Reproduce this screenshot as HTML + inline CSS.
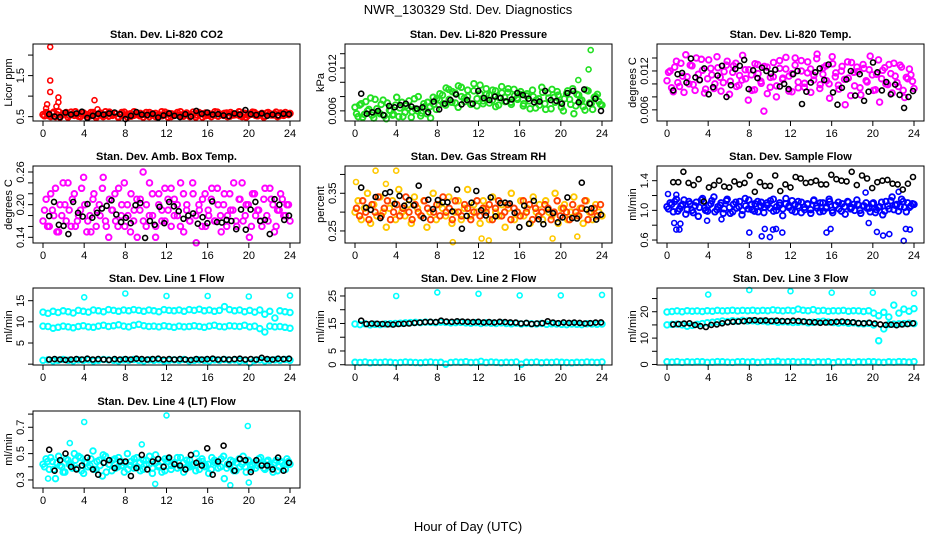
<!DOCTYPE html>
<html><head><meta charset="utf-8"><style>
html,body{margin:0;padding:0;background:#fff;}
svg{display:block;font-family:"Liberation Sans",Arial,sans-serif;}
</style></head><body>
<svg id="chart" width="936" height="540" viewBox="0 0 936 540" xmlns="http://www.w3.org/2000/svg">
<rect x="0" y="0" width="936" height="540" fill="#fff"/>
<text x="468" y="14" text-anchor="middle" font-size="13">NWR_130329  Std. Dev. Diagnostics</text>
<text x="468" y="531" text-anchor="middle" font-size="13">Hour of Day (UTC)</text>
</svg>
<script>
const xTicks=[0,4,8,12,16,20,24];
const xTickLabels=["0","4","8","12","16","20","24"];

const co2Red=[0.55,0.60,0.52,0.58,0.50,0.62,0.54,0.57,0.49,0.61,0.53,0.56,0.50,0.59,0.55,0.52,0.60,0.48,0.57,0.54,0.62,0.51,0.56,0.58,0.50,0.55,0.61,0.49,0.57,0.53,0.59,0.52,0.56,0.60,0.50,0.54,0.58,0.51,0.62,0.55,0.49,0.57,0.53,0.60,0.52,0.56,0.58,0.50,0.61,0.54,0.57,0.49,0.59,0.53,0.56,0.62,0.51,0.55,0.58,0.50,0.60,0.54,0.57,0.52,0.59,0.49,0.56,0.61,0.53,0.55,0.58,0.51,0.60,0.54,0.57,0.50,0.59,0.53,0.56,0.58];
const co2RedB=[0.52,0.58,0.50,0.61,0.55,0.49,0.57,0.60,0.53,0.56,0.62,0.51,0.58,0.54,0.49,0.60,0.56,0.52,0.59,0.50,0.55,0.61,0.53,0.57,0.48,0.60,0.54,0.56,0.51,0.62,0.55,0.58,0.49,0.53,0.60,0.57,0.50,0.55,0.52,0.61,0.58,0.50,0.56,0.54,0.62,0.51,0.59,0.53,0.55,0.49,0.60,0.57,0.52,0.58,0.50,0.54,0.61,0.56,0.53,0.59,0.51,0.57,0.55,0.62,0.50,0.58,0.53,0.56,0.60,0.52,0.55,0.49,0.59,0.57,0.54,0.61,0.52,0.56,0.60,0.55];
const co2Black=[0.56,0.50,0.49,0.60,0.55,0.58,0.62,0.47,0.52,0.57,0.55,0.58,0.60,0.56,0.44,0.52,0.61,0.55,0.54,0.57,0.48,0.53,0.58,0.52,0.49,0.56,0.50,0.64,0.57,0.60,0.55,0.56,0.53,0.51,0.58,0.55,0.66,0.56,0.54,0.58,0.52,0.55,0.53,0.57,0.56];
const co2OutHours=[0.7,0.7,0.7,1.5,1.5,0.4,5.0,1.3,0.3,5.3];
const co2OutValues=[2.2,1.38,1.1,0.97,0.85,0.8,0.9,0.75,0.7,0.68];

const presGreen=[6.5,5.2,7.0,5.5,6.0,7.8,5.0,6.3,5.6,7.5,4.9,6.1,5.4,6.8,5.2,7.2,5.8,6.4,5.1,7.7,6.0,5.3,7.0,5.6,6.6,7.9,6.2,7.5,8.2,6.8,9.0,7.2,8.5,6.5,9.3,7.8,8.0,7.0,8.8,6.7,9.6,7.4,8.3,7.1,8.9,6.6,7.9,8.5,7.3,9.1,6.9,8.1,7.6,8.7,7.0,8.4,6.3,8.0,7.5,6.8,8.6,6.2,7.8,9.0,7.2,8.2,6.5,7.7,8.8,6.9,5.6,8.3,7.4,6.6,8.9,7.1,6.2,8.0,7.3,6.8];
const presGreenB=[5.6,6.8,5.1,7.3,6.2,5.4,7.6,5.8,6.9,5.3,7.1,6.0,5.5,7.9,6.4,5.2,6.7,7.4,5.9,6.3,8.0,5.7,6.6,7.2,5.0,6.9,7.7,8.4,7.0,9.2,7.6,8.7,7.1,9.5,8.0,7.3,8.9,6.9,9.8,7.7,8.4,7.0,9.1,8.2,7.5,8.8,6.8,9.4,7.9,8.6,7.2,9.0,7.8,8.3,6.7,8.1,7.4,8.9,6.4,7.7,9.3,7.0,8.5,6.3,7.9,8.7,7.2,6.0,8.4,7.6,9.1,6.7,8.2,7.5,6.1,8.8,7.0,7.9,8.3,6.9];
const presBlack=[8.4,5.6,5.8,6.0,5.4,6.7,6.5,6.8,7.0,6.6,6.3,6.5,5.8,7.3,6.2,7.0,7.5,8.3,6.9,7.5,7.0,8.8,7.8,7.5,8.0,7.8,7.3,7.6,8.5,8.2,7.7,7.2,7.3,8.8,7.5,7.4,7.0,8.5,8.8,7.2,9.0,7.0,7.7,6.0];
const presOutHours=[22.9,22.7,21.7];
const presOutValues=[14.5,11.8,10.3];

const tempMagenta=[10.5,12.0,8.8,13.5,9.6,11.2,14.5,10.0,12.8,9.0,11.5,13.8,8.6,10.8,12.4,9.3,14.2,11.0,10.2,12.9,8.4,11.8,13.2,9.8,10.6,12.2,7.5,11.4,9.1,13.0,10.4,5.8,12.6,9.5,11.1,8.0,13.6,10.7,12.3,8.9,11.6,14.0,9.4,12.0,10.1,13.4,8.7,11.3,14.6,9.9,12.5,10.5,7.8,13.1,11.7,9.2,12.7,6.8,10.9,13.3,9.7,11.9,8.3,12.4,10.3,14.3,9.0,11.5,7.2,12.1,10.0,13.0,8.6,11.2,9.6,12.6,7.9,10.8,11.4,9.3];
const tempMagentaB=[11.8,9.4,12.6,10.2,13.2,8.7,11.1,12.9,9.9,14.0,10.6,12.1,9.2,13.7,11.4,10.0,12.5,8.9,11.9,13.5,10.4,12.8,9.6,11.3,14.4,10.8,12.2,9.0,13.1,11.6,10.1,12.7,8.5,11.0,13.3,9.7,12.4,10.9,14.1,11.2,8.8,12.9,10.3,13.6,9.5,11.7,12.3,10.6,13.9,9.3,11.5,12.8,10.0,14.2,11.1,9.8,12.0,10.7,13.4,8.2,11.8,12.6,9.4,13.0,10.5,12.2,11.4,9.1,13.7,10.8,12.5,9.9,11.6,13.2,10.2,12.9,9.0,11.0,12.3,10.4];
const tempBlack=[9.0,11.5,11.7,10.2,13.9,11.0,10.6,12.4,8.4,9.5,11.3,12.8,8.0,9.8,12.3,12.8,13.7,9.2,12.1,10.9,12.5,12.0,11.6,12.2,9.6,10.0,9.2,11.5,12.0,6.9,8.8,10.2,11.8,12.4,10.6,13.0,8.7,6.8,9.4,10.7,12.0,8.2,11.5,7.4,8.8,13.3,11.8,9.0,10.3,8.4,9.9,8.3,6.3,8.0,8.9];

const ambMagenta=[0.17,0.21,0.16,0.19,0.23,0.15,0.18,0.20,0.24,0.16,0.22,0.17,0.19,0.25,0.15,0.18,0.21,0.16,0.20,0.23,0.17,0.14,0.19,0.22,0.16,0.18,0.24,0.20,0.15,0.17,0.21,0.19,0.26,0.16,0.18,0.22,0.14,0.20,0.17,0.23,0.19,0.16,0.21,0.18,0.24,0.15,0.20,0.17,0.22,0.13,0.19,0.21,0.16,0.18,0.23,0.17,0.20,0.15,0.22,0.18,0.19,0.24,0.16,0.21,0.17,0.20,0.14,0.22,0.18,0.19,0.16,0.23,0.17,0.21,0.15,0.19,0.22,0.18,0.20,0.17];
const ambMagentaB=[0.19,0.16,0.22,0.18,0.15,0.20,0.24,0.17,0.19,0.21,0.16,0.18,0.23,0.20,0.17,0.15,0.22,0.19,0.18,0.25,0.16,0.21,0.19,0.17,0.23,0.20,0.16,0.18,0.22,0.19,0.14,0.21,0.17,0.20,0.24,0.18,0.16,0.22,0.19,0.17,0.21,0.23,0.18,0.20,0.16,0.22,0.19,0.17,0.24,0.18,0.20,0.16,0.22,0.19,0.21,0.17,0.23,0.18,0.20,0.16,0.22,0.19,0.17,0.21,0.24,0.18,0.20,0.16,0.22,0.19,0.17,0.21,0.18,0.23,0.20,0.16,0.19,0.21,0.18,0.20];
const ambBlack=[0.179,0.205,0.163,0.161,0.146,0.205,0.185,0.178,0.201,0.176,0.185,0.193,0.198,0.208,0.182,0.168,0.176,0.166,0.199,0.203,0.139,0.170,0.163,0.196,0.166,0.205,0.197,0.188,0.174,0.180,0.184,0.165,0.177,0.166,0.206,0.168,0.167,0.172,0.170,0.155,0.191,0.154,0.191,0.205,0.170,0.172,0.146,0.210,0.200,0.172,0.180];

const rhYellow=[0.30,0.33,0.28,0.31,0.35,0.27,0.32,0.29,0.34,0.30,0.26,0.31,0.33,0.28,0.36,0.30,0.29,0.32,0.27,0.34,0.31,0.29,0.33,0.26,0.30,0.35,0.28,0.32,0.31,0.29,0.34,0.27,0.30,0.33,0.28,0.31,0.36,0.29,0.32,0.30,0.27,0.33,0.31,0.28,0.34,0.30,0.29,0.32,0.26,0.31,0.35,0.28,0.30,0.33,0.29,0.31,0.27,0.34,0.30,0.32,0.28,0.33,0.30,0.29,0.35,0.27,0.31,0.32,0.28,0.30,0.34,0.29,0.31,0.27,0.33,0.30,0.28,0.32,0.30,0.29];
const rhRed=[0.31,0.29,0.33,0.30,0.28,0.32,0.30,0.34,0.29,0.31,0.33,0.28,0.30,0.32,0.29,0.31,0.34,0.30,0.28,0.32,0.30,0.29,0.33,0.31,0.28,0.30,0.32,0.29,0.34,0.30,0.31,0.28,0.33,0.30,0.29,0.32,0.31,0.28,0.30,0.33,0.29,0.31,0.30,0.32,0.28,0.31,0.33,0.29,0.30,0.32,0.28,0.31,0.30,0.29,0.33,0.30,0.32,0.28,0.31,0.29,0.30,0.32,0.31,0.28,0.30,0.33,0.29,0.31,0.30,0.28,0.32,0.30,0.29,0.31,0.33,0.28,0.30,0.31,0.29,0.32];
const rhOutHours=[0.1,2.0,4.0,3.0,9.5,12.3,13.0,19.2,21.6];
const rhOutValues=[0.38,0.41,0.41,0.375,0.22,0.23,0.225,0.23,0.235];
const rhBlack=[0.365,0.312,0.306,0.340,0.284,0.350,0.353,0.322,0.343,0.317,0.332,0.318,0.370,0.284,0.333,0.308,0.332,0.326,0.326,0.302,0.360,0.256,0.290,0.325,0.356,0.305,0.291,0.339,0.289,0.324,0.325,0.323,0.298,0.260,0.317,0.269,0.330,0.281,0.268,0.307,0.297,0.273,0.286,0.339,0.284,0.283,0.378,0.307,0.310,0.280,0.293];

const flowBlue=[1.05,1.10,0.98,1.15,1.02,1.08,0.95,1.12,1.00,1.06,0.92,1.14,1.03,0.99,1.09,1.18,1.01,1.07,0.96,1.13,1.04,0.98,1.11,1.05,0.94,1.16,1.02,1.08,0.99,1.12,1.06,0.97,1.10,1.03,1.15,1.00,1.07,0.93,1.09,1.04,1.13,0.98,1.06,1.11,1.01,1.08,0.96,1.14,1.03,1.10,0.99,1.05,1.12,0.97,1.07,1.02,1.09,0.95,1.11,1.04,1.00,1.08,0.96,1.06,1.03,0.98,1.10,1.01,1.05,0.94,1.12,1.02,1.18,1.07,0.99,1.15,1.04,1.10,1.06,1.08];
const flowBlueB=[1.02,1.08,1.12,0.99,1.06,1.14,1.01,1.09,0.97,1.11,1.04,1.16,1.00,1.07,1.13,0.98,1.05,1.10,1.02,1.15,0.96,1.08,1.03,1.12,1.00,1.06,1.14,1.01,1.09,0.98,1.11,1.04,1.07,1.13,0.99,1.05,1.10,1.02,1.16,1.06,1.00,1.08,1.12,0.97,1.04,1.09,1.01,1.13,1.06,0.98,1.10,1.03,1.15,1.00,1.07,1.11,0.99,1.05,1.12,1.02,1.08,1.14,1.00,1.06,1.10,1.03,1.09,0.97,1.04,1.11,0.99,1.06,1.13,1.01,1.08,1.05,1.12,0.98,1.04,1.09];
const flowOutHours=[0.9,0.7,1.2,1.3,8.0,9.2,9.5,10.0,10.3,10.6,11.2,15.5,15.9,19.6,20.4,21.0,21.6,23.0,23.2,23.6,3.9,5.3,0.1,0.9,19.3,22.5];
const flowOutValues=[0.74,0.83,0.74,0.82,0.70,0.65,0.75,0.64,0.74,0.75,0.70,0.70,0.75,0.83,0.71,0.66,0.68,0.59,0.75,0.74,0.86,0.88,1.22,1.21,1.24,1.25];
const flowBlack=[1.38,1.38,1.52,1.37,1.34,1.42,1.12,1.31,1.34,1.40,1.32,1.31,1.39,1.35,1.37,1.47,1.25,1.38,1.33,1.33,1.47,1.26,1.35,1.31,1.45,1.43,1.37,1.38,1.40,1.35,1.35,1.48,1.42,1.40,1.39,1.52,1.34,1.47,1.43,1.30,1.38,1.40,1.41,1.36,1.35,1.28,1.36,1.45];

const line1High=[12.3,12.0,12.5,12.2,12.6,12.4,12.1,12.7,12.5,12.3,12.8,12.6,12.4,12.9,12.7,12.5,12.8,12.6,12.9,12.7,12.5,12.8,12.6,12.4,12.9,12.7,12.6,12.8,12.5,12.9,12.7,13.0,12.6,12.8,12.5,12.7,13.6,12.9,12.6,12.8,12.4,12.7,12.3,12.8,11.8,12.5,10.9,12.6,12.4,12.2];
const line1Mid=[9.0,8.9,8.5,8.7,9.0,8.8,8.6,8.9,9.1,8.8,8.7,9.0,9.2,8.9,9.1,9.3,9.0,8.8,9.2,9.4,9.1,8.9,9.0,8.8,9.1,8.9,8.7,9.0,8.8,8.9,9.1,8.9,8.7,9.0,9.2,8.9,8.8,9.1,9.0,8.9,9.2,8.8,9.0,8.4,7.6,9.0,8.8,8.9,8.7,8.5];
const line1Low=[0.9,1.0,0.8,0.9,1.1,0.9,0.8,1.0,0.9,1.0,0.8,0.9,1.1,1.0,0.9,0.8,1.0,0.9,1.1,0.9,0.8,1.0,0.9,1.0,0.8,0.9,1.0,0.9,1.1,0.8,0.9,1.0,0.9,0.8,1.0,0.9,1.1,0.9,1.0,0.8,0.9,0.3,0.9,1.0,0.8,0.9,1.0,0.9,1.1,0.9];
const line1Black=[1.1,1.2,1.1,1.0,1.1,1.2,1.1,1.3,1.1,1.2,1.1,1.0,1.2,1.1,1.2,1.1,1.3,1.2,1.1,1.2,1.3,1.1,1.2,1.1,1.2,1.1,1.0,1.2,1.1,1.2,1.3,1.1,1.2,1.1,1.2,1.3,1.1,1.2,1.1,1.5,1.2,1.1,1.3,1.2,1.3];
const line1OutHours=[4,8,12,16,20,24];
const line1OutValues=[15.8,16.7,16.1,16.1,16.0,16.2];

const line2High=[14.8,14.6,14.9,14.5,14.7,14.6,14.8,14.9,15.0,15.1,15.2,15.3,15.4,15.3,15.5,15.4,15.3,15.5,15.4,15.2,15.3,15.4,15.2,15.1,15.3,15.0,15.2,15.1,15.0,15.2,15.0,14.9,15.1,14.8,15.0,14.9,14.8,15.0,14.7,14.9,14.8,14.7,14.6,14.8,14.7,14.6,14.9,14.8,14.7,14.8];
const line2Low=[0.9,0.8,1.0,0.7,0.9,0.8,1.0,0.9,0.7,0.8,1.0,0.9,0.8,0.7,0.9,1.0,0.8,0.9,0.2,0.8,1.0,0.9,1.1,0.8,0.9,1.2,0.8,1.0,0.9,0.7,0.9,0.8,1.0,0.2,0.9,0.8,1.0,0.7,0.9,0.8,1.0,0.9,0.8,0.7,0.9,0.8,1.0,0.9,0.8,1.0];
const line2Black=[16.0,14.8,15.0,14.9,14.8,14.7,14.6,14.8,14.9,15.0,15.2,15.3,15.5,15.6,15.5,16.0,15.7,15.6,15.8,15.7,15.6,15.5,15.6,15.4,15.5,15.4,15.6,15.5,15.4,15.3,15.0,15.2,14.8,15.0,15.1,15.8,15.3,15.1,15.4,15.2,15.3,15.2,15.0,15.1,15.3,15.4];
const line2OutHours=[4,8,12,16,20,24];
const line2OutValues=[25,26.3,25.8,25.2,25.2,25.4];

const line3High=[19.9,20.1,20.3,20.0,20.4,20.2,20.3,20.1,20.4,20.2,20.5,20.3,20.4,20.6,20.3,20.5,20.4,20.6,20.3,20.5,20.4,20.7,20.5,20.3,20.6,20.4,21.0,20.6,20.4,20.8,20.3,20.5,20.2,20.4,20.3,20.5,20.2,20.4,20.3,20.1,20.4,19.5,18.5,19.8,18.0,22.5,19.5,21.0,20.2,21.2];
const line3Mid=[15.0,15.2,15.3,15.0,14.5,14.8,15.2,15.5,15.8,16.0,16.2,16.5,16.3,16.6,16.4,16.7,16.5,16.6,16.3,16.5,16.2,16.4,16.0,16.2,16.1,15.9,16.0,16.2,15.8,16.0,16.2,16.4,16.1,15.9,15.7,15.9,15.6,15.8,15.5,15.4,15.6,15.0,9.0,13.5,15.2,15.3,15.4,15.5,15.6,15.5];
const line3Low=[1.0,0.9,1.1,0.8,1.0,0.9,1.1,1.0,0.8,0.9,1.1,1.0,0.9,0.8,1.0,1.1,0.9,1.0,0.8,0.9,1.1,1.0,1.2,0.9,1.0,1.1,0.9,1.1,1.0,0.8,1.0,0.9,1.1,0.7,1.0,0.9,1.1,0.8,1.0,0.9,1.1,1.0,0.9,0.8,1.0,0.9,1.1,1.0,0.9,1.1];
const line3Black=[15.2,15.3,15.5,15.6,15.0,14.5,14.2,15.0,15.2,15.6,16.0,16.2,16.3,16.4,16.7,16.8,16.6,16.7,16.5,16.6,16.5,16.4,16.6,16.5,16.3,16.1,16.0,15.8,15.9,16.0,16.2,16.3,16.1,16.0,15.7,15.6,15.8,15.5,15.2,15.0,15.1,14.9,15.2,15.3,15.6];
const line3OutHours=[4,8,12,16,20,24];
const line3OutValues=[26.5,28.2,27.8,27.2,27.2,27.0];

const line4Cyan=[0.42,0.46,0.38,0.44,0.31,0.48,0.40,0.36,0.45,0.42,0.50,0.39,0.47,0.35,0.43,0.41,0.52,0.38,0.45,0.33,0.48,0.42,0.37,0.46,0.40,0.44,0.36,0.50,0.41,0.39,0.47,0.43,0.38,0.45,0.42,0.35,0.49,0.40,0.44,0.37,0.46,0.41,0.43,0.39,0.47,0.36,0.45,0.40,0.42,0.50,0.38,0.44,0.41,0.35,0.47,0.43,0.39,0.46,0.31,0.42,0.45,0.37,0.43,0.40,0.48,0.36,0.44,0.41,0.39,0.46,0.42,0.38,0.45,0.40,0.43,0.37,0.44,0.41,0.46,0.42];
const line4CyanB=[0.40,0.44,0.47,0.38,0.43,0.41,0.36,0.46,0.42,0.39,0.45,0.48,0.37,0.43,0.40,0.46,0.38,0.44,0.41,0.49,0.36,0.42,0.45,0.39,0.47,0.41,0.43,0.38,0.44,0.46,0.40,0.37,0.45,0.42,0.48,0.39,0.43,0.41,0.36,0.46,0.44,0.38,0.42,0.47,0.40,0.43,0.39,0.45,0.41,0.37,0.44,0.46,0.40,0.42,0.38,0.45,0.43,0.40,0.48,0.39,0.41,0.44,0.37,0.46,0.42,0.40,0.45,0.38,0.43,0.41,0.47,0.39,0.44,0.42,0.36,0.45,0.40,0.43,0.38,0.44];
const line4OutHours=[4.0,12.0,19.9,2.6,9.6,10.9,18.2,0.5,20.0];
const line4OutValues=[0.74,0.79,0.71,0.58,0.57,0.27,0.26,0.31,0.28];
const line4Black=[0.53,0.37,0.45,0.50,0.40,0.38,0.41,0.47,0.38,0.34,0.43,0.45,0.39,0.44,0.44,0.33,0.39,0.49,0.38,0.44,0.46,0.40,0.47,0.42,0.41,0.38,0.49,0.43,0.41,0.54,0.34,0.44,0.56,0.42,0.37,0.46,0.45,0.36,0.45,0.41,0.41,0.38,0.47,0.37,0.43];

const p1Ticks=[0.5,1.0,1.5,2.0], p1Labels=["0.5","","1.5",""];
const p2Ticks=[6,8,10,12,14], p2Labels=["0.006","","","0.012",""];
const p3Ticks=[6,8,10,12,14], p3Labels=["0.006","","","0.012",""];
const p4Ticks=[0.14,0.16,0.18,0.20,0.22,0.24,0.26], p4Labels=["0.14","","","0.20","","","0.26"];
const p5Ticks=[0.25,0.30,0.35,0.40], p5Labels=["0.25","","0.35",""];
const p6Ticks=[0.6,0.8,1.0,1.2,1.4], p6Labels=["0.6","","1.0","","1.4"];
const p7Ticks=[0,5,10,15], p7Labels=["","5","10","15"];
const p8Ticks=[0,5,10,15,20,25], p8Labels=["0","5","","15","","25"];
const p9Ticks=[0,5,10,15,20,25], p9Labels=["0","","10","","20",""];
const p10Ticks=[0.3,0.4,0.5,0.6,0.7,0.8], p10Labels=["0.3","","0.5","","0.7",""];

const RED="#ff0000",GRN="#22e022",MAG="#ff00ff",YEL="#ffc800",ORR="#ff4000",BLU="#0000ff",CYN="#00ffff",BLK="#000000";
const panels=[
 {id:"co2",title:"Stan. Dev. Li-820 CO2",ylab:"Licor ppm",col:0,row:0,ymin:0.394,ymax:2.27,ticks:p1Ticks,labels:p1Labels,
  series:[{v:co2Red,c:RED,dense:true},{v:co2RedB,c:RED,dense:true,off:true},{v:co2OutValues,h:co2OutHours,c:RED},{v:co2Black,c:BLK}]},
 {id:"pressure",title:"Stan. Dev. Li-820 Pressure",ylab:"kPa",col:1,row:0,ymin:4.58,ymax:15.36,ticks:p2Ticks,labels:p2Labels,
  series:[{v:presGreen,c:GRN,dense:true},{v:presGreenB,c:GRN,dense:true,off:true},{v:presOutValues,h:presOutHours,c:GRN},{v:presBlack,c:BLK}]},
 {id:"temp",title:"Stan. Dev. Li-820 Temp.",ylab:"degrees C",col:2,row:0,ymin:4.28,ymax:16.16,ticks:p3Ticks,labels:p3Labels,
  series:[{v:tempMagenta,c:MAG,dense:true},{v:tempMagentaB,c:MAG,dense:true,off:true},{v:tempBlack,c:BLK}]},
 {id:"amb-box",title:"Stan. Dev. Amb. Box Temp.",ylab:"degrees C",col:0,row:1,ymin:0.1296,ymax:0.271,ticks:p4Ticks,labels:p4Labels,
  series:[{v:ambMagenta,c:MAG,dense:true},{v:ambMagentaB,c:MAG,dense:true,off:true},{v:ambBlack,c:BLK}]},
 {id:"rh",title:"Stan. Dev. Gas Stream RH",ylab:"percent",col:1,row:1,ymin:0.218,ymax:0.4224,ticks:p5Ticks,labels:p5Labels,
  series:[{v:rhYellow,c:YEL,dense:true},{v:rhRed,c:ORR,dense:true,off:true},{v:rhOutValues,h:rhOutHours,c:YEL},{v:rhBlack,c:BLK}]},
 {id:"sample-flow",title:"Stan. Dev. Sample Flow",ylab:"ml/min",col:2,row:1,ymin:0.56,ymax:1.598,ticks:p6Ticks,labels:p6Labels,
  series:[{v:flowBlue,c:BLU,dense:true},{v:flowBlueB,c:BLU,dense:true,off:true},{v:flowOutValues,h:flowOutHours,c:BLU},{v:flowBlack,c:BLK}]},
 {id:"line1",title:"Stan. Dev. Line 1 Flow",ylab:"ml/min",col:0,row:2,ymin:-0.2,ymax:18.0,ticks:p7Ticks,labels:p7Labels,
  series:[{v:line1High,c:CYN,dense:true},{v:line1Mid,c:CYN,dense:true},{v:line1Low,c:CYN,dense:true},{v:line1OutValues,h:line1OutHours,c:CYN},{v:line1Black,c:BLK}]},
 {id:"line2",title:"Stan. Dev. Line 2 Flow",ylab:"ml/min",col:1,row:2,ymin:-0.1,ymax:27.9,ticks:p8Ticks,labels:p8Labels,
  series:[{v:line2High,c:CYN,dense:true},{v:line2Low,c:CYN,dense:true},{v:line2OutValues,h:line2OutHours,c:CYN},{v:line2Black,c:BLK}]},
 {id:"line3",title:"Stan. Dev. Line 3 Flow",ylab:"ml/min",col:2,row:2,ymin:-0.2,ymax:29.0,ticks:p9Ticks,labels:p9Labels,
  series:[{v:line3High,c:CYN,dense:true},{v:line3Mid,c:CYN,dense:true},{v:line3Low,c:CYN,dense:true},{v:line3OutValues,h:line3OutHours,c:CYN},{v:line3Black,c:BLK}]},
 {id:"line4",title:"Stan. Dev. Line 4 (LT) Flow",ylab:"ml/min",col:0,row:3,ymin:0.239,ymax:0.8235,ticks:p10Ticks,labels:p10Labels,
  series:[{v:line4Cyan,c:CYN,dense:true},{v:line4CyanB,c:CYN,dense:true,off:true},{v:line4OutValues,h:line4OutHours,c:CYN},{v:line4Black,c:BLK}]}
];

const NS="http://www.w3.org/2000/svg";
const svg=document.getElementById('chart');
const colX0=[43,355,667], hourW=247/24;
const rowTop=[44,166,288,411], boxH=77;
function mk(tag,attrs,parent){const e=document.createElementNS(NS,tag);for(const k in attrs)e.setAttribute(k,attrs[k]);parent.appendChild(e);return e;}

panels.forEach(p=>{
  const x0=colX0[p.col], top=rowTop[p.row], bottom=top+boxH;
  const left=x0-10, right=x0+247+10;
  const xs=h=>x0+h*hourW;
  const ys=v=>bottom-(v-p.ymin)/(p.ymax-p.ymin)*boxH;
  const g=mk('g',{},svg);
  
  
  const t=mk('text',{x:(left+right)/2,y:top-6,'text-anchor':'middle','font-size':'11','font-weight':'bold'},g);
  t.textContent=p.title;
  
  
  const yl=mk('text',{x:0,y:0,'text-anchor':'middle','font-size':'11',transform:`translate(${left-21},${top+boxH/2}) rotate(-90)`},g);
  yl.textContent=p.ylab;
  
  
  const pg=mk('g',{fill:'none'},g);
  
  
  p.series.forEach(s=>{
    const n=s.v.length;
    s.v.forEach((v,i)=>{
      let h;
      if(s.h) h=s.h[i];
      else if(s.dense) h=s.off?(i+0.5)*24/n:i*24/(n-1);
      else h=0.6+i*(23.3)/(n-1);
      const c=mk('circle',{cx:xs(h).toFixed(1),cy:ys(v).toFixed(1),r:s.dense?2.8:2.5,stroke:s.c,'stroke-width':s.dense?'1.9':'1.6'},pg);
      
      
    });
  });
  const box=mk('rect',{x:left,y:top,width:right-left,height:boxH,fill:'none',stroke:'#000','stroke-width':'1'},g);
  
  
  xTicks.forEach((h,i)=>{
    const x=xs(h);
    const tk=mk('line',{x1:x,x2:x,y1:bottom,y2:bottom+5,stroke:'#000'},g);
    
    
    const tl=mk('text',{x:x,y:bottom+16,'text-anchor':'middle','font-size':'11'},g);
    tl.textContent=xTickLabels[i];
    
    
  });
  p.ticks.forEach((v,i)=>{
    const y=ys(v);
    const tk=mk('line',{x1:left-5,x2:left,y1:y,y2:y,stroke:'#000'},g);
    
    
    if(p.labels[i]){
      const tl=mk('text',{x:0,y:0,'text-anchor':'middle','font-size':'11',transform:`translate(${left-9},${y}) rotate(-90)`},g);
      tl.textContent=p.labels[i];
      
      
    }
  });
});
</script>
</body></html>
